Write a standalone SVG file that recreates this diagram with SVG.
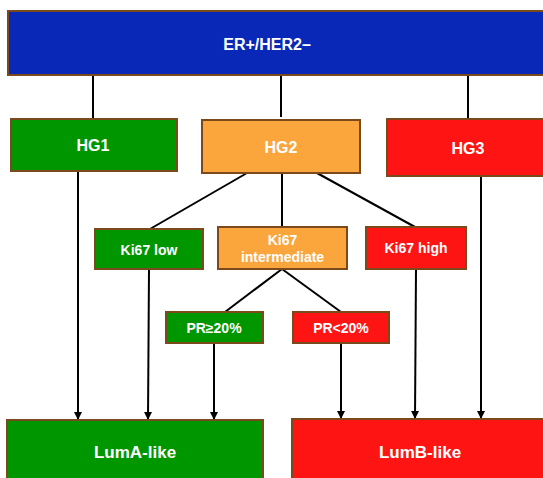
<svg xmlns="http://www.w3.org/2000/svg" width="543" height="478" viewBox="0 0 543 478">
<defs>
<style>
.box{stroke:#7a4a1c;stroke-width:2}
.blue{fill:#0a28b8}
.green{fill:#009600}
.orange{fill:#fba63c}
.red{fill:#ff1414}
text{font-family:"Liberation Sans",Arial,sans-serif;font-weight:bold;fill:#ffffff;text-anchor:middle}
.t16{font-size:16px}
.t14{font-size:14px}
.t17{font-size:17px}
.ln{stroke:#000;stroke-width:2;fill:none}
</style>
<marker id="arr" markerWidth="8" markerHeight="8" refX="7" refY="4" orient="auto" markerUnits="userSpaceOnUse">
<path d="M0,0 L8,4 L0,8 Z" fill="#000"/>
</marker>
</defs>
<rect width="543" height="478" fill="#ffffff"/>
<g id="connectors">
<line class="ln" x1="93" y1="75" x2="93" y2="119"/>
<line class="ln" x1="281" y1="75" x2="281" y2="117"/>
<line class="ln" x1="468" y1="75" x2="468" y2="119"/>
<line class="ln" x1="247" y1="173" x2="150" y2="229"/>
<line class="ln" x1="282" y1="173" x2="282" y2="227"/>
<line class="ln" x1="317" y1="173" x2="415" y2="227"/>
<line class="ln" x1="282" y1="269" x2="225" y2="312"/>
<line class="ln" x1="282" y1="269" x2="341" y2="312"/>
<line class="ln" x1="78" y1="171" x2="78" y2="419" marker-end="url(#arr)"/>
<line class="ln" x1="149" y1="269" x2="148" y2="419" marker-end="url(#arr)"/>
<line class="ln" x1="214" y1="343" x2="214" y2="419" marker-end="url(#arr)"/>
<line class="ln" x1="341" y1="343" x2="341" y2="418" marker-end="url(#arr)"/>
<line class="ln" x1="416" y1="269" x2="415" y2="418" marker-end="url(#arr)"/>
<line class="ln" x1="481" y1="176" x2="481" y2="418" marker-end="url(#arr)"/>
</g>
<g id="er">
<rect class="box blue" x="8" y="11" width="545" height="64"/>
<text class="t16" x="267" y="50">ER+/HER2–</text>
</g>
<g id="hg1">
<rect class="box green" x="11" y="119" width="166" height="52"/>
<text class="t16" x="93" y="151">HG1</text>
</g>
<g id="hg2">
<rect class="box orange" x="202" y="120" width="158" height="53"/>
<text class="t16" x="281" y="153">HG2</text>
</g>
<g id="hg3">
<rect class="box red" x="387" y="119" width="166" height="57"/>
<text class="t16" x="468" y="154">HG3</text>
</g>
<g id="ki67low">
<rect class="box green" x="95" y="229" width="108" height="40"/>
<text class="t14" x="149" y="255">Ki67 low</text>
</g>
<g id="ki67int">
<rect class="box orange" x="218" y="227" width="129" height="42"/>
<text class="t14" x="282.5" y="245">Ki67</text>
<text class="t14" x="282.5" y="262">intermediate</text>
</g>
<g id="ki67high">
<rect class="box red" x="366" y="227" width="100" height="42"/>
<text class="t14" x="416" y="253">Ki67 high</text>
</g>
<g id="prhigh">
<rect class="box green" x="166" y="312" width="97" height="31"/>
<text class="t14" x="214" y="333">PR≥20%</text>
</g>
<g id="prlow">
<rect class="box red" x="293" y="312" width="96" height="31"/>
<text class="t14" x="341" y="333">PR&lt;20%</text>
</g>
<g id="luma">
<rect class="box green" x="7" y="420" width="256" height="70"/>
<text class="t17" x="135" y="458">LumA-like</text>
</g>
<g id="lumb">
<rect class="box red" x="292" y="419" width="260" height="70"/>
<text class="t17" x="420" y="458">LumB-like</text>
</g>
</svg>
